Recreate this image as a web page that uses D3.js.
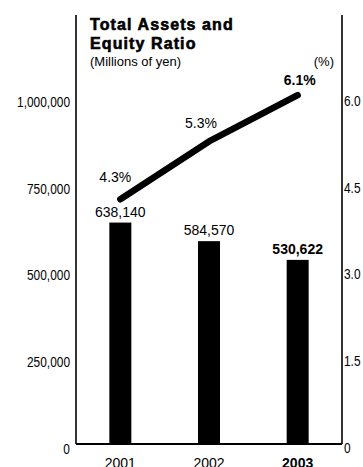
<!DOCTYPE html>
<html>
<head>
<meta charset="utf-8">
<script src="https://cdn.jsdelivr.net/npm/d3@7"></script>
<style>
  html, body { margin: 0; padding: 0; background: #fff; }
  svg { display: block; }
  text { font-family: "Liberation Sans", Arial, Helvetica, sans-serif; fill: #000; }
</style>
</head>
<body>
<svg id="chart" width="363" height="467"></svg>
<script>
// Fiscal years on the category axis
const years = ["2001", "2002", "2003"];
// Total assets, millions of yen (bars)
const totalAssets = [638140, 584570, 530622];
// Equity ratio, percent (line)
const equityRatio = [4.3, 5.3, 6.1];
// Axis tick values
const assetTicks = [0, 250000, 500000, 750000, 1000000];
const ratioTicks = [0, 1.5, 3.0, 4.5, 6.0];

// Layout
const plotLeft = 76, plotRight = 342, plotTop = 15, plotBase = 444;
const svg = d3.select("#chart");

const x = d3.scaleBand().domain(years).range([plotLeft, plotRight])
  .paddingInner(0.752).paddingOuter(0.376);
const yAssets = d3.scaleLinear().domain([0, 1000000]).range([plotBase, 97]);
const yRatio = d3.scaleLinear().domain([0, 6]).range([448, 101]);

const fmtAssets = d3.format(",");
const fmtRatio = d3.format(".1f");

// Condensed look for axis numerals: squeeze glyphs horizontally
function condense(sel, factor) {
  sel.each(function () {
    const len = this.getComputedTextLength();
    d3.select(this).attr("textLength", len * factor).attr("lengthAdjust", "spacingAndGlyphs");
  });
}

// Bars
svg.append("g").selectAll("rect").data(totalAssets).join("rect")
  .attr("x", (d, i) => x(years[i]))
  .attr("y", d => yAssets(d))
  .attr("width", x.bandwidth())
  .attr("height", d => plotBase - yAssets(d))
  .attr("fill", "#000");

// Axes frame: left, right and baseline
const frame = svg.append("g").attr("stroke", "#000").attr("fill", "none");
frame.append("line").attr("x1", plotLeft).attr("x2", plotLeft).attr("y1", plotTop).attr("y2", plotBase).attr("stroke-width", 1.6);
frame.append("line").attr("x1", plotRight).attr("x2", plotRight).attr("y1", plotTop).attr("y2", plotBase).attr("stroke-width", 1.6);
frame.append("line").attr("x1", plotLeft).attr("x2", plotRight).attr("y1", plotBase).attr("y2", plotBase).attr("stroke-width", 1.8);

// Left axis labels
const leftAxis = svg.append("g")
  .attr("transform", `translate(${plotLeft},5)`)
  .call(d3.axisLeft(yAssets).tickValues(assetTicks).tickFormat(fmtAssets).tickSize(0).tickPadding(6));
leftAxis.select(".domain").remove();
leftAxis.attr("font-family", null).attr("font-size", null);
leftAxis.selectAll("text").style("font-size", "14px").attr("fill", "#000").call(condense, 0.85);

// Right axis labels
const rightAxis = svg.append("g")
  .attr("transform", `translate(${plotRight},0)`)
  .call(d3.axisRight(yRatio).tickValues(ratioTicks).tickFormat(d => d === 0 ? "0" : fmtRatio(d)).tickSize(0).tickPadding(2));
rightAxis.select(".domain").remove();
rightAxis.attr("font-family", null).attr("font-size", null);
rightAxis.selectAll("text").style("font-size", "14px").attr("fill", "#000").call(condense, 0.85);

// Year labels
svg.append("g").selectAll("text").data(years).join("text")
  .attr("x", d => x(d) + x.bandwidth() / 2)
  .attr("y", 468)
  .attr("text-anchor", "middle")
  .style("font-size", "14px")
  .style("font-weight", (d, i) => i === years.length - 1 ? "bold" : "normal")
  .text(d => d);

// Bar value labels
svg.append("g").selectAll("text").data(totalAssets).join("text")
  .attr("x", (d, i) => x(years[i]) + x.bandwidth() / 2)
  .attr("y", d => yAssets(d) - 6)
  .attr("text-anchor", "middle")
  .style("font-size", "14px")
  .style("font-weight", (d, i) => i === totalAssets.length - 1 ? "bold" : "normal")
  .text(d => fmtAssets(d));

// Equity ratio line
const line = d3.line()
  .x((d, i) => x(years[i]) + x.bandwidth() / 2)
  .y(d => yRatio(d));
svg.append("path").datum(equityRatio)
  .attr("d", line)
  .attr("fill", "none")
  .attr("stroke", "#000")
  .attr("stroke-width", 6.5)
  .attr("stroke-linecap", "round")
  .attr("stroke-linejoin", "round");

// Ratio labels, nudged clear of the line
const ratioNudge = [[-5, -17], [-8, -13], [2, -10]];
svg.append("g").selectAll("text").data(equityRatio).join("text")
  .attr("x", (d, i) => x(years[i]) + x.bandwidth() / 2 + ratioNudge[i][0])
  .attr("y", (d, i) => yRatio(d) + ratioNudge[i][1])
  .attr("text-anchor", "middle")
  .style("font-size", "14px")
  .style("font-weight", (d, i) => i === equityRatio.length - 1 ? "bold" : "normal")
  .text(d => fmtRatio(d) + "%");

// Title and units
svg.append("text").attr("x", 90).attr("y", 30)
  .style("font-size", "16px").style("font-weight", "bold").style("letter-spacing", "1.1px")
  .attr("stroke", "#000").attr("stroke-width", 0.6)
  .text("Total Assets and");
svg.append("text").attr("x", 90).attr("y", 48.5)
  .style("font-size", "16px").style("font-weight", "bold").style("letter-spacing", "1.1px")
  .attr("stroke", "#000").attr("stroke-width", 0.6)
  .text("Equity Ratio");
svg.append("text").attr("x", 90).attr("y", 66)
  .style("font-size", "13px")
  .text("(Millions of yen)");
svg.append("text").attr("x", 334).attr("y", 66)
  .attr("text-anchor", "end")
  .style("font-size", "13px")
  .text("(%)");
</script>
</body>
</html>
